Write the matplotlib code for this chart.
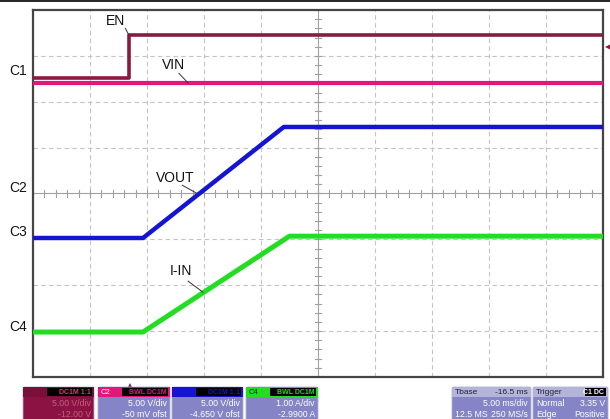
import matplotlib
matplotlib.use("Agg")
import matplotlib.pyplot as plt
from matplotlib.patches import FancyBboxPatch, Rectangle
import numpy as np

plt.rcParams['font.family'] = ['Liberation Sans', 'DejaVu Sans']

# screen units: time in ms (5 ms/div, 10 div), vertical in divisions (-4..4)
en_t = [0.0, 8.42, 8.42, 50.0]
en_v = [2.52, 2.52, 3.45, 3.45]
vin_t = [0.0, 50.0]
vin_v = [2.41, 2.41]
vout_t = [0.0, 9.65, 22.0, 50.0]
vout_v = [-0.97, -0.97, 1.45, 1.45]
iin_t = [0.0, 9.65, 22.5, 50.0]
iin_v = [-3.02, -3.02, -0.93, -0.93]

trig_time = 8.5
trig_level = 3.19

ch_names = ['C1', 'C2', 'C3', 'C4']
ch_offsets = [2.54, 0.0, -0.97, -3.02]

labels = ['EN', 'VIN', 'VOUT', 'I-IN']
label_pos = [(7.2, 3.77), (12.3, 2.80), (12.45, 0.33), (13.0, -1.70)]
leader_from = [(8.1, 3.60), (12.8, 2.62), (13.1, 0.18), (13.6, -1.91)]
leader_to = [(8.42, 3.45), (13.6, 2.41), (14.4, 0.0), (14.9, -2.15)]

c_en = '#8a1a40'
c_vin = '#e0187a'
c_vout = '#1414d2'
c_iin = '#22dd22'

W, H = 610, 419
fig = plt.figure(figsize=(W / 100, H / 100), dpi=100)
fig.patch.set_facecolor('white')

ax = fig.add_axes([33 / W, (H - 377) / H, 570 / W, 367 / H])
ax.set_xlim(0, 50)
ax.set_ylim(-4, 4)
ax.set_xticks([])
ax.set_yticks([])
for s in ax.spines.values():
    s.set_color('#454545')
    s.set_linewidth(1.6)

# grid
for xg in np.arange(5, 50, 5):
    if xg != 25:
        ax.axvline(xg, color='#c4c4c4', lw=0.8, ls=(0, (4, 3)), zorder=1)
for yg in np.arange(-3, 4, 1):
    if yg != 0:
        ax.axhline(yg, color='#c4c4c4', lw=0.8, ls=(0, (4, 3)), zorder=1)
ax.axhline(0, color='#a0a0a0', lw=0.8, zorder=1)
ax.axvline(25, color='#a0a0a0', lw=0.8, zorder=1)
for xm in np.arange(0, 50.01, 1.0):
    ax.plot([xm, xm], [-0.07, 0.07], color='#a0a0a0', lw=0.8, zorder=1)
for ym in np.arange(-4, 4.01, 0.2):
    ax.plot([24.75, 25.25], [ym, ym], color='#a0a0a0', lw=0.8, zorder=1)

# traces
ax.plot(vin_t, vin_v, color=c_vin, lw=3.0, zorder=3, solid_capstyle='butt')
ax.plot(en_t, en_v, color=c_en, lw=2.6, zorder=4, solid_capstyle='butt')
ax.plot(vout_t, vout_v, color=c_vout, lw=3.2, zorder=3, solid_capstyle='butt')
ax.plot(iin_t, iin_v, color=c_iin, lw=3.6, zorder=3, solid_capstyle='butt')

for name, (tx, ty), (fx, fy), (ex, ey) in zip(labels, label_pos, leader_from, leader_to):
    ax.text(tx, ty, name, fontsize=10, ha='center', va='center', color='#111111', zorder=5)
    ax.plot([fx, ex], [fy, ey], color='#333333', lw=0.7, zorder=5)

# channel markers on the left
for name, off in zip(ch_names, ch_offsets):
    ax.text(-0.55, off + 0.12, name, fontsize=10, ha='right', va='center',
            color='#111111', clip_on=False)

# trigger markers
ax.plot([trig_time], [-4.2], marker='^', color=c_en, ms=5, clip_on=False, zorder=6,
        markeredgewidth=0)
ax.plot([50.4], [trig_level], marker='<', color=c_en, ms=5, clip_on=False, zorder=6,
        markeredgewidth=0)

# overlay in pixel coordinates for the status bar
ov = fig.add_axes([0, 0, 1, 1], zorder=-1)
ov.set_xlim(0, W)
ov.set_ylim(H, 0)
ov.axis('off')
ov.plot([0, W], [1.5, 1.5], color='black', lw=1.2)

ov2 = fig.add_axes([0, 0, 1, 1], zorder=10)
ov2.set_xlim(0, W)
ov2.set_ylim(H, 0)
ov2.axis('off')

body = '#8484c6'
boxes = [
    # x0, x1, header color, header label, label color, tag, tag color, body color, lines, text color
    (23, 94, '#7a0f3a', '', '#ffffff', 'DC1M 1:1', '#d04070', '#8c1244', ['5.00 V/div', '-12.00 V'], '#c0607c'),
    (98, 170, c_vin, 'C2', '#ffffff', 'BWL DC1M', c_vin, body, ['5.00 V/div', '-50 mV ofst'], '#ffffff'),
    (172, 243, c_vout, 'C3', c_vout, 'DC1M 1:1', c_vout, body, ['5.00 V/div', '-4.650 V ofst'], '#ffffff'),
    (246, 318, c_iin, 'C4', '#103010', 'BWL DC1M', c_iin, body, ['1.00 A/div', '-2.9900 A'], '#ffffff'),
]
for x0, x1, hc, hl, hlc, tag, tagc, bc, lines, tc in boxes:
    ov2.add_patch(FancyBboxPatch((x0, 387), x1 - x0, 40, boxstyle='round,pad=0,rounding_size=2',
                                 fc=bc, ec='#b0b0d8', lw=0.6))
    ov2.add_patch(Rectangle((x0, 387), x1 - x0, 10, fc=hc, ec='none'))
    ov2.add_patch(Rectangle((x0 + 24, 388), x1 - x0 - 26, 8, fc='black', ec='none'))
    ov2.text(x0 + 3, 392, hl, fontsize=5.5, color=hlc, va='center', ha='left')
    ov2.text(x1 - 3, 392, tag, fontsize=5.0, color=tagc, va='center', ha='right', fontweight='bold')
    ov2.text(x1 - 3, 403, lines[0], fontsize=6.3, color=tc, va='center', ha='right')
    ov2.text(x1 - 3, 414, lines[1], fontsize=6.3, color=tc, va='center', ha='right')

# timebase box
ov2.add_patch(FancyBboxPatch((452, 387), 79, 40, boxstyle='round,pad=0,rounding_size=2',
                             fc=body, ec='#b0b0d8', lw=0.6))
ov2.add_patch(Rectangle((452, 387), 79, 10, fc='#b4b4d8', ec='none'))
ov2.text(455, 392, 'Tbase', fontsize=6.0, color='#202040', va='center', ha='left')
ov2.text(528, 392, '-16.5 ms', fontsize=6.0, color='#202040', va='center', ha='right')
ov2.text(528, 403, '5.00 ms/div', fontsize=6.3, color='#ffffff', va='center', ha='right')
ov2.text(455, 414, '12.5 MS', fontsize=6.3, color='#ffffff', va='center', ha='left')
ov2.text(528, 414, '250 MS/s', fontsize=6.3, color='#ffffff', va='center', ha='right')

# trigger box
ov2.add_patch(FancyBboxPatch((533, 387), 75, 40, boxstyle='round,pad=0,rounding_size=2',
                             fc=body, ec='#b0b0d8', lw=0.6))
ov2.add_patch(Rectangle((533, 387), 75, 10, fc='#b4b4d8', ec='none'))
ov2.add_patch(Rectangle((585, 388), 21, 8, fc='black', ec='none'))
ov2.text(536, 392, 'Trigger', fontsize=6.0, color='#202040', va='center', ha='left')
ov2.text(604, 392, 'C1 DC', fontsize=5.0, color='#ffffff', va='center', ha='right', fontweight='bold')
ov2.text(536, 403, 'Normal', fontsize=6.3, color='#ffffff', va='center', ha='left')
ov2.text(605, 403, '3.35 V', fontsize=6.3, color='#ffffff', va='center', ha='right')
ov2.text(536, 414, 'Edge', fontsize=6.3, color='#ffffff', va='center', ha='left')
ov2.text(605, 414, 'Positive', fontsize=6.3, color='#ffffff', va='center', ha='right')

fig.savefig('out.png', dpi=100)
